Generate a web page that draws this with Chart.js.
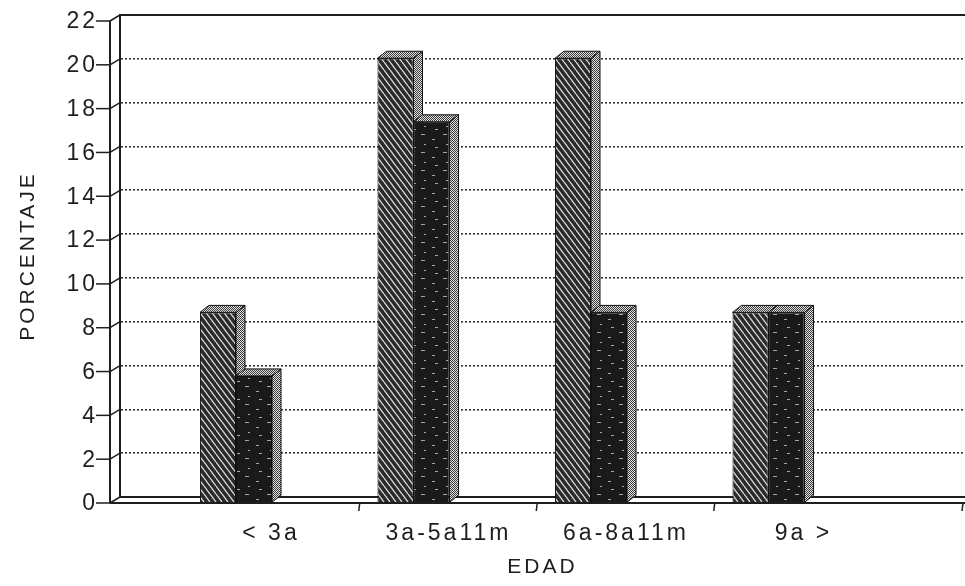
<!DOCTYPE html>
<html>
<head>
<meta charset="utf-8">
<script src="https://cdn.jsdelivr.net/npm/chart.js@4.4.0/dist/chart.umd.min.js"></script>
<style>
  html, body { margin: 0; padding: 0; background: #fff; }
  #grafico { display: block; }
</style>
</head>
<body>
<canvas id="grafico" width="965" height="586"></canvas>
<script>
// datos
const categorias = ['< 3a', '3a-5a11m', '6a-8a11m', '9a >'];
const serieClara = [8.7, 20.3, 20.3, 8.7];
const serieOscura = [5.8, 17.4, 8.7, 8.7];
const ticksY = [0, 2, 4, 6, 8, 10, 12, 14, 16, 18, 20, 22];

// efecto 3D
const DX = 9, DY = 7, FRENTE = 6, EJE_X = 110, DESPL_ETIQ = 35;
const tinta = '#1e1e1e';
const fuente = 'Liberation Sans, Arial, sans-serif';

function patron(w, h, pintar) {
  const c = document.createElement('canvas');
  c.width = w; c.height = h;
  const g = c.getContext('2d');
  pintar(g, w, h);
  return g.createPattern(c, 'repeat');
}

const rayado = patron(6, 8, (g, w, h) => {
  g.fillStyle = '#2a2a2a';
  g.fillRect(0, 0, w, h);
  g.strokeStyle = '#e0e0e0';
  g.lineWidth = 1.3;
  for (let k = -1; k <= 1; k++) {
    g.beginPath();
    g.moveTo(k * w, 0);
    g.lineTo(k * w + w, h);
    g.stroke();
  }
});

const moteado = patron(22, 18, g => {
  g.fillStyle = '#1a1a1a';
  g.fillRect(0, 0, 22, 18);
  g.fillStyle = '#a8a8a8';
  [[3, 2, 4, 1], [14, 7, 3, 1], [6, 12, 2, 1], [17, 15, 3, 1]].forEach(r => g.fillRect(...r));
});

const punteado = patron(2, 2, g => {
  g.fillStyle = '#e2e2e2';
  g.fillRect(0, 0, 2, 2);
  g.fillStyle = '#3a3a3a';
  g.fillRect(0, 0, 1, 1);
  g.fillRect(1, 1, 1, 1);
});

function linea(ctx, x1, y1, x2, y2) {
  ctx.beginPath();
  ctx.moveTo(x1, y1);
  ctx.lineTo(x2, y2);
  ctx.stroke();
}

const relieve = {
  id: 'relieve',
  beforeDraw(chart) {
    chart.ctx.letterSpacing = '3px';
  },
  beforeDatasetDraw() {
    return false;
  },
  afterDatasetsDraw(chart) {
    const { ctx, chartArea: a, scales: { x, y } } = chart;

    // barras: caras lateral y superior + frente dibujado por Chart.js
    ctx.save();
    ctx.translate(0, FRENTE);
    chart.data.datasets.forEach((ds, di) => {
      chart.getDatasetMeta(di).data.forEach(barra => {
        const { x: cx, y: tope, base, width } = barra.getProps(['x', 'y', 'base', 'width'], true);
        const l = cx - width / 2, r = cx + width / 2;
        ctx.fillStyle = punteado;
        ctx.strokeStyle = '#111';
        ctx.lineWidth = 1;
        ctx.beginPath();
        ctx.moveTo(r, base);
        ctx.lineTo(r, tope);
        ctx.lineTo(r + DX, tope - DY);
        ctx.lineTo(r + DX, base - DY);
        ctx.closePath();
        ctx.fill();
        ctx.stroke();
        ctx.beginPath();
        ctx.moveTo(l, tope);
        ctx.lineTo(l + DX, tope - DY);
        ctx.lineTo(r + DX, tope - DY);
        ctx.lineTo(r, tope);
        ctx.closePath();
        ctx.fill();
        ctx.stroke();
        barra.draw(ctx);
      });
    });
    ctx.restore();

    // marco y ejes delanteros
    ctx.save();
    ctx.strokeStyle = tinta;
    ctx.lineWidth = 2;
    linea(ctx, a.left, a.top, a.right, a.top);
    linea(ctx, EJE_X, a.top + FRENTE, EJE_X, a.bottom + FRENTE);
    linea(ctx, EJE_X, a.bottom + FRENTE, a.right, a.bottom + FRENTE);
    ctx.lineWidth = 1.5;
    ticksY.forEach(v => {
      const py = y.getPixelForValue(v);
      linea(ctx, 96, py + FRENTE, EJE_X, py + FRENTE);
      linea(ctx, EJE_X, py + FRENTE, a.left, py);
    });
    const marcas = categorias.slice(1).map((c, i) => x.getPixelForValue(i + 0.5) + DESPL_ETIQ);
    marcas.push(a.right - 2);
    marcas.forEach(px => linea(ctx, px, a.bottom + FRENTE, px - 1, a.bottom + FRENTE + 8));
    ctx.restore();
  }
};

new Chart(document.getElementById('grafico'), {
  type: 'bar',
  data: {
    datasets: [
      {
        data: serieClara.map((v, i) => ({ x: i, y: v })),
        backgroundColor: rayado,
        borderColor: '#111',
        borderWidth: 1,
        barPercentage: 1,
        categoryPercentage: 0.406
      },
      {
        data: serieOscura.map((v, i) => ({ x: i, y: v })),
        backgroundColor: moteado,
        borderColor: '#111',
        borderWidth: 1,
        barPercentage: 1,
        categoryPercentage: 0.406
      }
    ]
  },
  options: {
    responsive: false,
    animation: false,
    layout: { padding: { top: 15, left: 0, right: 0, bottom: 0 } },
    plugins: {
      legend: { display: false },
      tooltip: { enabled: false }
    },
    scales: {
      x: {
        type: 'linear',
        offset: false,
        min: -0.6535,
        max: 4.107,
        afterFit: s => {
          s.height = 89;
          s.paddingLeft = 0;
          s.paddingRight = 0;
        },
        afterBuildTicks: s => { s.ticks = categorias.map((c, i) => ({ value: i })); },
        ticks: {
          callback: v => categorias[v],
          labelOffset: DESPL_ETIQ,
          padding: 15,
          maxRotation: 0,
          autoSkip: false,
          color: tinta,
          font: { family: fuente, size: 23 }
        },
        grid: { display: false },
        border: { display: true, color: tinta, width: 2 },
        title: {
          display: true,
          text: 'EDAD',
          color: tinta,
          font: { family: fuente, size: 21 },
          padding: { top: 0, bottom: 6 }
        }
      },
      y: {
        min: 0,
        max: 22,
        afterFit: s => {
          s.width = 120;
          s.paddingTop = 0;
          s.paddingBottom = 0;
        },
        afterBuildTicks: s => { s.ticks = ticksY.map(v => ({ value: v })); },
        ticks: {
          padding: 22,
          labelOffset: 7,
          color: tinta,
          font: { family: fuente, size: 23 }
        },
        grid: { color: '#333', lineWidth: 1.6, drawTicks: false },
        border: { display: true, color: tinta, width: 2, dash: [2, 2] },
        title: {
          display: true,
          text: 'PORCENTAJE',
          color: tinta,
          font: { family: fuente, size: 21 },
          padding: { top: 16, bottom: 0 }
        }
      }
    }
  },
  plugins: [relieve]
});
</script>
</body>
</html>
